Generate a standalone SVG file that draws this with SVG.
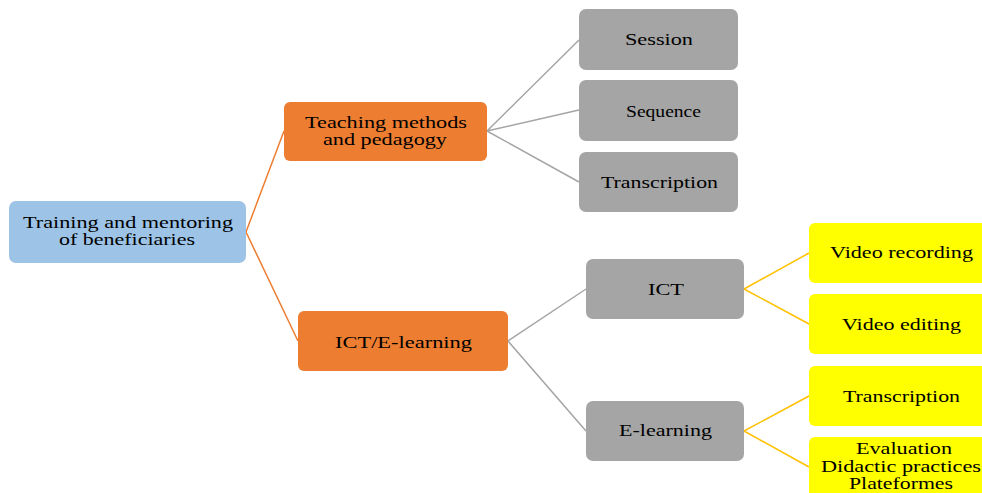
<svg xmlns="http://www.w3.org/2000/svg" width="982" height="493" viewBox="0 0 982 493">
  <style>
    .box { stroke: none; }
    .root { fill: #9DC3E6; }
    .orange { fill: #ED7D31; }
    .gray { fill: #A5A5A5; }
    .yellow { fill: #FFFF00; }
    text { font-family: 'Times New Roman', 'Liberation Serif', Tinos, 'Nimbus Roman', serif; font-size: 16.5px; fill: #000; }
    .c-orange { stroke: #ED7D31; stroke-width: 1.5; fill: none; }
    .c-gray { stroke: #A5A5A5; stroke-width: 1.5; fill: none; }
    .c-gold { stroke: #FFC000; stroke-width: 1.5; fill: none; }
  </style>
  <rect width="982" height="493" fill="#FFFFFF"/>

  <g id="connectors">
    <path class="c-orange" d="M246,232 L284,131 M246,232 L298,341"/>
    <path class="c-gray" d="M487,131 L579,40 M487,131 L579,110 M487,131 L579,182"/>
    <path class="c-gray" d="M508,341 L586,289 M508,341 L586,431"/>
    <path class="c-gold" d="M744,289 L809,253 M744,289 L809,324"/>
    <path class="c-gold" d="M744,431 L809,396 M744,431 L809,467"/>
  </g>

  <g id="root">
    <rect class="box root" x="9" y="201" width="237" height="62" rx="7"/>
    <text x="23" y="228" textLength="210" lengthAdjust="spacingAndGlyphs">Training and mentoring</text>
    <text x="59" y="245" textLength="136" lengthAdjust="spacingAndGlyphs">of beneficiaries</text>
  </g>

  <g id="teaching">
    <rect class="box orange" x="284" y="102" width="203" height="59" rx="6"/>
    <text x="305" y="128" textLength="162" lengthAdjust="spacingAndGlyphs">Teaching methods</text>
    <text x="323" y="145" textLength="124" lengthAdjust="spacingAndGlyphs">and pedagogy</text>
  </g>

  <g id="ict-elearning">
    <rect class="box orange" x="298" y="311" width="210" height="60" rx="6"/>
    <text x="335" y="348" textLength="137" lengthAdjust="spacingAndGlyphs">ICT/E-learning</text>
  </g>

  <g id="session">
    <rect class="box gray" x="579" y="9" width="159" height="61" rx="7"/>
    <text x="625" y="45" textLength="68" lengthAdjust="spacingAndGlyphs">Session</text>
  </g>

  <g id="sequence">
    <rect class="box gray" x="579" y="80" width="159" height="61" rx="7"/>
    <text x="626" y="117" textLength="75" lengthAdjust="spacingAndGlyphs">Sequence</text>
  </g>

  <g id="transcription-1">
    <rect class="box gray" x="579" y="152" width="159" height="60" rx="7"/>
    <text x="601" y="188" textLength="117" lengthAdjust="spacingAndGlyphs">Transcription</text>
  </g>

  <g id="ict">
    <rect class="box gray" x="586" y="259" width="158" height="60" rx="7"/>
    <text x="648" y="295" textLength="36" lengthAdjust="spacingAndGlyphs">ICT</text>
  </g>

  <g id="elearning">
    <rect class="box gray" x="586" y="401" width="158" height="60" rx="7"/>
    <text x="619" y="436" textLength="93" lengthAdjust="spacingAndGlyphs">E-learning</text>
  </g>

  <g id="video-recording">
    <rect class="box yellow" x="809" y="223" width="180" height="60" rx="6"/>
    <text x="830" y="258" textLength="143" lengthAdjust="spacingAndGlyphs">Video recording</text>
  </g>

  <g id="video-editing">
    <rect class="box yellow" x="809" y="294" width="180" height="60" rx="6"/>
    <text x="842" y="330" textLength="119" lengthAdjust="spacingAndGlyphs">Video editing</text>
  </g>

  <g id="transcription-2">
    <rect class="box yellow" x="809" y="366" width="180" height="60" rx="6"/>
    <text x="843" y="402" textLength="117" lengthAdjust="spacingAndGlyphs">Transcription</text>
  </g>

  <g id="evaluation">
    <rect class="box yellow" x="809" y="437" width="180" height="70" rx="6"/>
    <text x="856" y="454" textLength="96" lengthAdjust="spacingAndGlyphs">Evaluation</text>
    <text x="821" y="472" textLength="160" lengthAdjust="spacingAndGlyphs">Didactic practices</text>
    <text x="849" y="489" textLength="104" lengthAdjust="spacingAndGlyphs">Plateformes</text>
  </g>
</svg>
